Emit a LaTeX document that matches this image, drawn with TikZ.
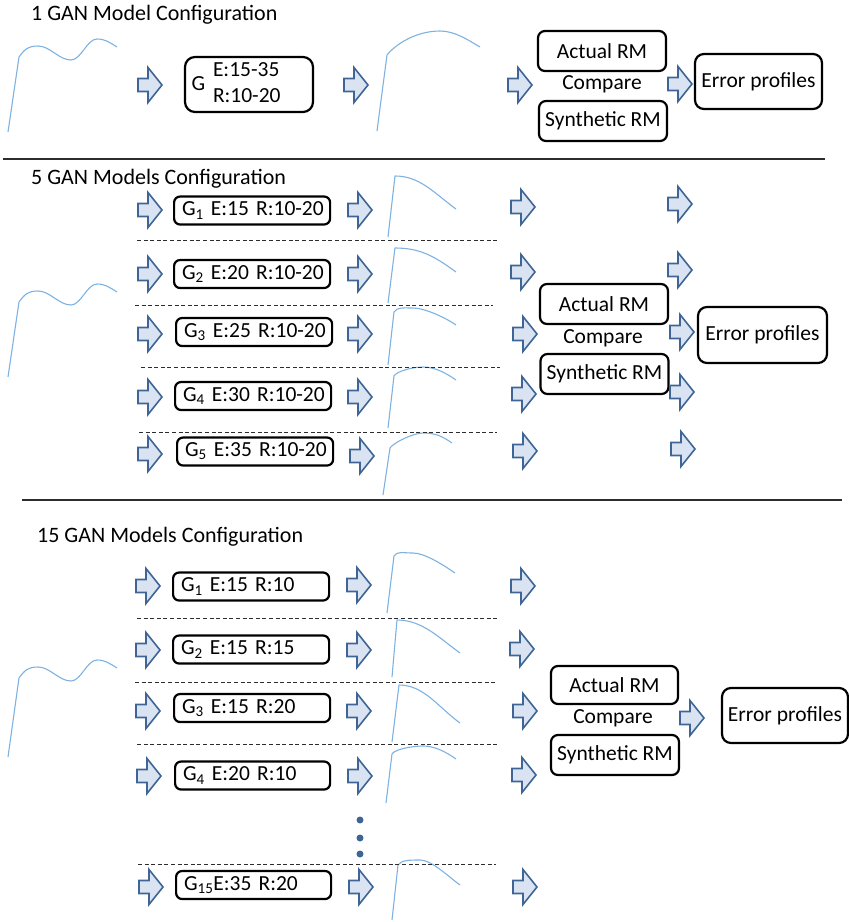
\documentclass[tikz,border=0pt]{standalone}
\usepackage{fontspec}
\setmainfont{Carlito}
\definecolor{arrowblue}{RGB}{62,101,150}
\definecolor{arrowfill}{RGB}{218,227,242}
\definecolor{curveblue}{RGB}{125,178,225}
\definecolor{sepgray}{RGB}{45,45,45}
\tikzset{
  barrow/.pic={\draw[arrowblue, fill=arrowfill, line width=1.6pt, line join=miter]
     (-12,-6.5) -- (-2,-6.5) -- (-2,-17.5) -- (12,0) -- (-2,17.5) -- (-2,6.5) -- (-12,6.5) -- cycle;},
  rbox/.style={draw, line width=2.2pt, rounded corners=7pt, minimum width=128pt, minimum height=40pt, inner sep=0pt},
  ebox/.style={draw, line width=2.2pt, rounded corners=9pt, minimum width=127pt, minimum height=55pt, inner sep=0pt},
  gbox/.style={draw, line width=2.2pt, rounded corners=6pt, anchor=west, text width=140pt, align=left, inner xsep=8pt, inner ysep=0pt, minimum height=28pt},
  gbig/.style={draw, line width=2.2pt, rounded corners=10pt, text width=114pt, align=left, inner xsep=7pt, inner ysep=0pt, minimum height=55pt},
  curvestyle/.style={curveblue, line width=1.1pt, line join=round},
  dashline/.style={sepgray, line width=0.9pt, dash pattern=on 4pt off 2.6pt},
  sepline/.style={sepgray, line width=1.3pt},
  titletext/.style={anchor=base west, inner sep=0pt, font=\fontsize{22}{26}\selectfont}
}
\newcommand\incurve[3]{\draw[curvestyle, shift={(#1,#2)}] (-11,#3) -- (0,0)
  .. controls +(6,-8) and +(-10,0) .. (19,-11)
  .. controls +(12,0) and +(-12,0) .. (52,3)
  .. controls +(10,0) and +(-10,0) .. (78,-18)
  .. controls +(8,0) and +(-8,-5) .. (98,-10);}
\newcommand\rcurve[8]{\draw[curvestyle] (#1,#2) -- (#3,#4)
  .. controls +(3,-5) and +(-10,0) .. (#5,#6)
  .. controls +(12,0) and +(-10,-7) .. (#7,#8);}
\newcommand\fcurve[6]{\draw[curvestyle] (#1,#2) -- (#3,#4)
  .. controls +(25,0) and +(-22,-16) .. (#5,#6);}
\begin{document}
\begin{tikzpicture}[x=1pt, y=-1pt, font=\fontsize{21.5}{25.5}\selectfont]
\useasboundingbox (0,0) rectangle (849,922);

% ---------- Section 1 ----------
\node[titletext] (t1) at (31,20) {1 GAN Model Configuration};
\incurve{19}{57}{75}
\pic at (150,85) {barrow};
\node[gbig] (g0) at (249,84.5) {\hspace*{21pt}\begin{tabular}{@{}l@{}}E:15-35\\R:10-20\end{tabular}};
\node[anchor=base, inner sep=0pt] (g0l) at (198.5,90) {G};
\pic at (356,85) {barrow};
\draw[curvestyle] (377,131) -- (387,55) .. controls +(8,-10) and +(-25,0) .. (440,31) .. controls +(15,0) and +(-12,-7) .. (480,47);
\pic at (520,85) {barrow};
\node[rbox] (a1) at (602,51) {Actual RM};
\node[anchor=base, inner sep=0pt] (c1) at (602,89) {Compare};
\node[rbox] (s1) at (603,121) {Synthetic RM};
\pic at (680,84) {barrow};
\node[ebox] (e1) at (758.5,81.5) {Error profiles};

\draw[sepline] (3,159) -- (825,159);

% ---------- Section 2 ----------
\node[titletext] (t2) at (31,184) {5 GAN Models Configuration};
\incurve{19}{302}{75}
\foreach \y in {210,274,334,397,454} { \pic at (150,\y) {barrow}; }
\node[gbox] (g21) at (173,210.5) {\mbox{G\textsubscript{1} E:15 R:10-20}};
\node[gbox] (g22) at (173,274) {\mbox{G\textsubscript{2} E:20 R:10-20}};
\node[gbox] (g23) at (175,332) {\mbox{G\textsubscript{3} E:25 R:10-20}};
\node[gbox] (g24) at (174,396) {\mbox{G\textsubscript{4} E:30 R:10-20}};
\node[gbox] (g25) at (176,451.5) {\mbox{G\textsubscript{5} E:35 R:10-20}};
\foreach \y in {210,274,334,397} { \pic at (360,\y) {barrow}; }
\pic at (362,456) {barrow};
\fcurve{388}{237}{395}{176}{456}{209}
\fcurve{388}{303}{395}{248}{456}{272}
\rcurve{388}{365}{394}{312}{413}{308}{456}{325}
\rcurve{388}{428}{394}{376}{423}{367}{456}{380}
\rcurve{383}{495}{390}{448}{423}{433}{452}{443}
\draw[dashline] (137,240) -- (497,240);
\draw[dashline] (135,305) -- (493,305);
\draw[dashline] (141,367) -- (500,367);
\draw[dashline] (139,432) -- (497,432);
\pic at (523,207) {barrow};
\pic at (523,272) {barrow};
\pic at (525,334) {barrow};
\pic at (524,394) {barrow};
\pic at (525,451) {barrow};
\node[rbox] (a2) at (604,304) {Actual RM};
\node[anchor=base, inner sep=0pt] (c2) at (603,343) {Compare};
\node[rbox] (s2) at (604.5,374) {Synthetic RM};
\pic at (680,204) {barrow};
\pic at (680,270) {barrow};
\pic at (682,332) {barrow};
\pic at (682,392) {barrow};
\pic at (683,449) {barrow};
\node[ebox, minimum width=129pt, minimum height=56pt] (e2) at (762.5,335) {Error profiles};

\draw[sepline] (22,500) -- (842,500);

% ---------- Section 3 ----------
\node[titletext] (t3) at (37,542) {15 GAN Models Configuration};
\incurve{19}{678}{79}
\pic at (148,586) {barrow};
\pic at (148,650) {barrow};
\pic at (148,711) {barrow};
\pic at (149,776) {barrow};
\pic at (151,887) {barrow};
\node[gbox, text width=140pt] (g31) at (172,586.5) {\mbox{G\textsubscript{1} E:15 R:10}};
\node[gbox, text width=140pt] (g32) at (172,649.5) {\mbox{G\textsubscript{2} E:15 R:15}};
\node[gbox, text width=140pt] (g33) at (173,708) {\mbox{G\textsubscript{3} E:15 R:20}};
\node[gbox, text width=139pt] (g34) at (174,775.5) {\mbox{G\textsubscript{4} E:20 R:10}};
\node[gbox, text width=139pt] (g35) at (175,885) {\mbox{G\textsubscript{15}E:35 R:20}};
\pic at (359,585) {barrow};
\pic at (359,650) {barrow};
\pic at (359,711) {barrow};
\pic at (360,776) {barrow};
\pic at (361,887) {barrow};
\rcurve{387}{613}{394}{556}{413}{553}{455}{573}
\fcurve{392}{677}{397}{620}{460}{653}
\fcurve{392}{742}{399}{685}{460}{723}
\rcurve{386}{803}{392}{754}{423}{746}{456}{759}
\rcurve{392}{920}{398}{865}{420}{860}{460}{885}
\draw[dashline] (137,618) -- (497,618);
\draw[dashline] (135,682) -- (497,682);
\draw[dashline] (137,744) -- (498,744);
\draw[dashline] (138,864) -- (496,864);
\fill[arrowblue] (360,820) circle (3.5pt);
\fill[arrowblue] (360,838) circle (3.5pt);
\fill[arrowblue] (360,854) circle (3.5pt);
\pic at (523,586) {barrow};
\pic at (522,649) {barrow};
\pic at (525,711) {barrow};
\pic at (524,775) {barrow};
\pic at (525,887) {barrow};
\node[rbox, minimum width=127pt, minimum height=38pt] (a3) at (614.5,685) {Actual RM};
\node[anchor=base, inner sep=0pt] (c3) at (613,723) {Compare};
\node[rbox] (s3) at (615,755) {Synthetic RM};
\pic at (692,718) {barrow};
\node[ebox, minimum width=126pt] (e3) at (785,715.5) {Error profiles};
\end{tikzpicture}
\end{document}
